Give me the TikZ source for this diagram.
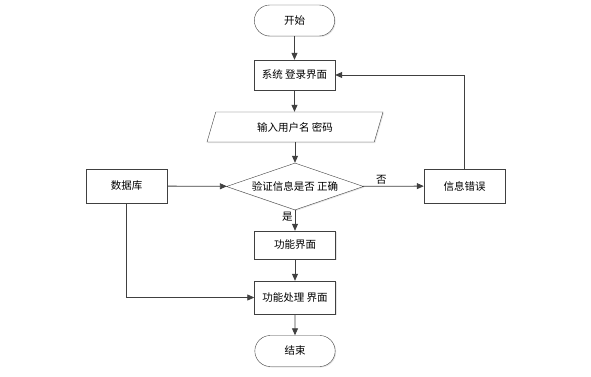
\documentclass[tikz,border=0pt]{standalone}
\usepackage{fontspec}
\newfontfamily\cjk{Noto Sans CJK SC}
\usetikzlibrary{positioning,arrows.meta,shapes.geometric,shapes.misc,shadows,calc}
\definecolor{fcLine}{RGB}{64,64,64}

\begin{document}
\begin{tikzpicture}[
    x=1pt, y=-1pt,
    font=\cjk\fontsize{10.5}{12}\selectfont,
    box shadow/.style={drop shadow={opacity=0.2, shadow xshift=1pt, shadow yshift=-1pt}},
    terminal/.style={rounded rectangle, draw=fcLine, fill=white, box shadow, minimum width=87pt, minimum height=31pt},
    process/.style={rectangle, draw=fcLine, fill=white, box shadow, minimum width=81pt, minimum height=30pt},
    io box/.style={trapezium, trapezium left angle=62, trapezium right angle=118, draw=fcLine, fill=white, box shadow, minimum width=176pt, minimum height=30pt, trapezium stretches body},
    decision/.style={diamond, draw=fcLine, fill=white, box shadow, aspect=2.9, minimum width=137pt, minimum height=47pt, inner sep=0pt},
    flow/.style={draw=fcLine, thick, -{Triangle[length=7pt,width=6pt]}},
    edge note/.style={inner sep=2pt}
]
  \useasboundingbox (0,0) rectangle (591,377);

  \node[terminal] (start) at (294.5,20.5) {开始};
  \node[process] (login) at (294.5,75) {系统 登录界面};
  \node[io box] (input) at (295,127) {输入用户名 密码};
  \node[decision] (check) at (295,186.5) {验证信息是否 正确};
  \node[process, minimum height=34pt] (db) at (126.5,186) {数据库};
  \node[process, minimum height=34pt] (error) at (464.5,186) {信息错误};
  \node[process, minimum height=28pt] (func) at (295,245) {功能界面};
  \node[process, minimum height=33pt] (handle) at (295,297.5) {功能处理 界面};
  \node[terminal] (finish) at (295,351) {结束};

  \draw[flow] (start) -- (login);
  \draw[flow] (login) -- (login |- input.north);
  \draw[flow] (input.south -| check) -- (check);
  \draw[flow] (db) -- (check);
  \draw[flow] (check) -- node[edge note, above, pos=0.3] {否} (error);
  \draw[flow] (check) -- node[edge note, left, pos=0.3] {是} (func);
  \draw[flow] (error) |- (login);
  \draw[flow] (func) -- (handle);
  \draw[flow] (db) |- (handle);
  \draw[flow] (handle) -- (finish);
\end{tikzpicture}
\end{document}
